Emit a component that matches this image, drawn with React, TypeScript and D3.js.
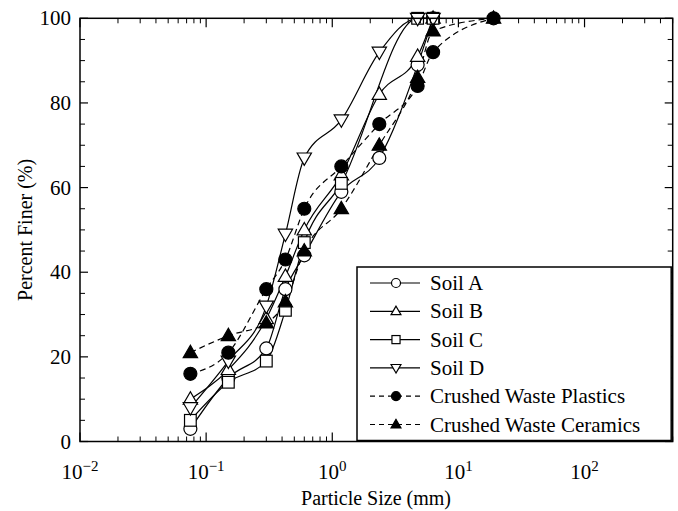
import React from "react";
import * as d3 from "d3";

const sieveSizes = [0.075, 0.15, 0.3, 0.425, 0.6, 1.18, 2.36, 4.75, 6.3, 19];
const soilA = [3, 15, 22, 36, 44, 59, 67, 89, 100, null];
const soilB = [10, 17, 29, 39, 50, 63, 82, 91, 100, null];
const soilC = [5, 14, 19, 31, 47, 61, null, 100, 100, null];
const soilD = [8, 19, 32, 49, 67, 76, 92, 100, 100, null];
const plastics = [16, 21, 36, 43, 55, 65, 75, 84, 92, 100];
const ceramics = [21, 25, 28, 33, 45, 55, 70, 86, 97, 100];

const seriesNames = ["Soil A", "Soil B", "Soil C", "Soil D", "Crushed Waste Plastics", "Crushed Waste Ceramics"];
const seriesValues = [soilA, soilB, soilC, soilD, plastics, ceramics];
const seriesMarkers = ["circle", "triUp", "square", "triDown", "circle", "triUp"];
const seriesFilled = [false, false, false, false, true, true];
const seriesDashed = [false, false, false, false, true, true];

const xDecades = [-2, -1, 0, 1, 2];
const yTicks = [0, 20, 40, 60, 80, 100];

const W = 678, H = 511;
const L = 80, R = 672.7, T = 18.3, B = 441.5;
const FONT = "Liberation Serif, DejaVu Serif, Times New Roman, serif";
const TS: React.CSSProperties = { fontFamily: FONT };

function Marker({ type, cx, cy, s, filled }: { type: string; cx: number; cy: number; s: number; filled: boolean }) {
  const fill = filled ? "#000" : "#fff";
  const sw = 1.2;
  if (type === "circle") return <circle cx={cx} cy={cy} r={s * 0.5} fill={fill} stroke="#000" strokeWidth={sw} />;
  if (type === "square") return <rect x={cx - s * 0.45} y={cy - s * 0.45} width={s * 0.9} height={s * 0.9} fill={fill} stroke="#000" strokeWidth={sw} />;
  const h = s * 0.95, w = s * 1.1;
  if (type === "triUp") {
    const p = `${cx},${cy - h * 0.6} ${cx - w / 2},${cy + h * 0.4} ${cx + w / 2},${cy + h * 0.4}`;
    return <polygon points={p} fill={fill} stroke="#000" strokeWidth={sw} />;
  }
  const p = `${cx},${cy + h * 0.6} ${cx - w / 2},${cy - h * 0.4} ${cx + w / 2},${cy - h * 0.4}`;
  return <polygon points={p} fill={fill} stroke="#000" strokeWidth={sw} />;
}

export default function App() {
  const x = d3.scaleLog().domain([0.01, 500]).range([L, R]);
  const y = d3.scaleLinear().domain([0, 100]).range([B, T]);

  const line = d3
    .line<[number, number]>()
    .x((d) => x(d[0]))
    .y((d) => y(d[1]))
    .curve(d3.curveMonotoneX);

  const minorX: number[] = [];
  for (let e = -2; e <= 2; e++) {
    for (let m = 2; m <= 9; m++) {
      const v = m * Math.pow(10, e);
      if (v <= 500) minorX.push(v);
    }
  }
  const minorY = d3.range(0, 101, 5).filter((v) => v % 20 !== 0);

  const legX = 357, legY = 267, legW = R - 1.5 - 357, legH = B - 1 - 267;
  const rowH = 28.3;

  return (
    <svg width={W} height={H} style={{ position: "absolute", left: 0, top: 0, background: "#fff", fontFamily: FONT }}>
      <rect x={0} y={0} width={W} height={H} fill="#fff" />
      {seriesValues.map((vals, i) => {
        const pts: [number, number][] = [];
        vals.forEach((v, j) => {
          if (v != null) pts.push([sieveSizes[j], v]);
        });
        return (
          <path key={"l" + i} d={line(pts) || ""} fill="none" stroke="#000" strokeWidth={1.2}
            strokeDasharray={seriesDashed[i] ? "6,4" : undefined} />
        );
      })}
      {seriesValues.map((vals, i) =>
        vals.map((v, j) =>
          v == null ? null : (
            <Marker key={`m${i}-${j}`} type={seriesMarkers[i]} cx={x(sieveSizes[j])} cy={y(v)} s={13} filled={seriesFilled[i]} />
          )
        )
      )}
      <rect x={L} y={T} width={R - L} height={B - T} fill="none" stroke="#000" strokeWidth={1.5} />
      {xDecades.map((e) => {
        const px = x(Math.pow(10, e));
        return (
          <g key={"xt" + e}>
            <line x1={px} x2={px} y1={B} y2={B - 9} stroke="#000" strokeWidth={1.2} />
            <line x1={px} x2={px} y1={T} y2={T + 9} stroke="#000" strokeWidth={1.2} />
            <text x={px} y={479} textAnchor="middle" fontSize={21} fill="#000" style={TS}>
              10<tspan dy={-8} fontSize={15}>{e < 0 ? "\u2212" + Math.abs(e) : String(e)}</tspan>
            </text>
          </g>
        );
      })}
      {minorX.map((v, k) => {
        const px = x(v);
        return (
          <g key={"xm" + k}>
            <line x1={px} x2={px} y1={B} y2={B - 5} stroke="#000" strokeWidth={1} />
            <line x1={px} x2={px} y1={T} y2={T + 5} stroke="#000" strokeWidth={1} />
          </g>
        );
      })}
      {yTicks.map((v) => {
        const py = y(v);
        return (
          <g key={"yt" + v}>
            <line x1={L} x2={L + 8} y1={py} y2={py} stroke="#000" strokeWidth={1.2} />
            <line x1={R} x2={R - 8} y1={py} y2={py} stroke="#000" strokeWidth={1.2} />
            <text x={71} y={py + 7} textAnchor="end" fontSize={21} fill="#000" style={TS}>{v}</text>
          </g>
        );
      })}
      {minorY.map((v) => {
        const py = y(v);
        return (
          <g key={"ym" + v}>
            <line x1={L} x2={L + 5} y1={py} y2={py} stroke="#000" strokeWidth={1} />
            <line x1={R} x2={R - 5} y1={py} y2={py} stroke="#000" strokeWidth={1} />
          </g>
        );
      })}
      <text x={376} y={505} textAnchor="middle" fontSize={20} fill="#000" style={TS}>Particle Size (mm)</text>
      <text transform={`translate(32,${(T + B) / 2}) rotate(-90)`} textAnchor="middle" fontSize={20} fill="#000" style={TS}>Percent Finer (%)</text>
      <rect x={legX} y={legY} width={legW} height={legH} fill="#fff" stroke="#000" strokeWidth={1.5} />
      {seriesNames.map((name, i) => {
        const cy = legY + 16 + i * rowH;
        return (
          <g key={"lg" + i}>
            <line x1={370} x2={420} y1={cy} y2={cy} stroke="#000" strokeWidth={1.2}
              strokeDasharray={seriesDashed[i] ? "5,4" : undefined} />
            <Marker type={seriesMarkers[i]} cx={396} cy={cy} s={9} filled={seriesFilled[i]} />
            <text x={430} y={cy + 7} fontSize={21} fill="#000" style={TS}>{name}</text>
          </g>
        );
      })}
    </svg>
  );
}
